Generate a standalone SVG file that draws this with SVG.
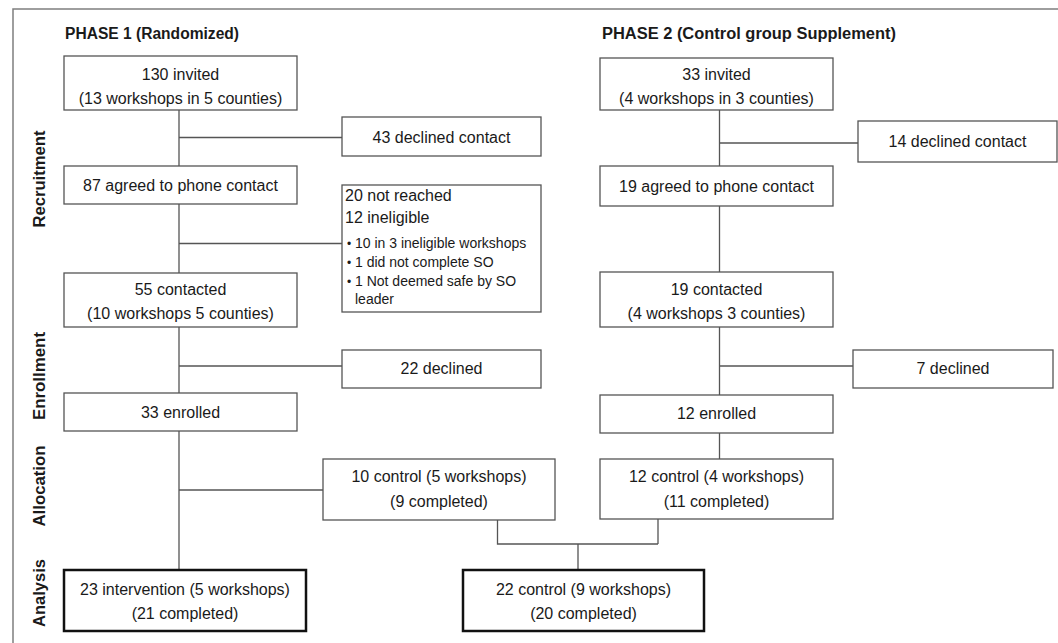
<svg xmlns="http://www.w3.org/2000/svg" width="1058" height="643" viewBox="0 0 1058 643">
<defs>
<style>
.bx{fill:#fff;stroke:#555;stroke-width:1.3}
.bxt{fill:#fff;stroke:#111;stroke-width:2.5}
.t{font-family:"Liberation Sans",Arial,sans-serif;font-size:16px;fill:#1a1a1a;text-anchor:middle}
.tl{font-family:"Liberation Sans",Arial,sans-serif;font-size:16px;fill:#1a1a1a}
.ts{font-family:"Liberation Sans",Arial,sans-serif;font-size:14px;fill:#1a1a1a}
.bu{font-family:"Liberation Sans",Arial,sans-serif;font-size:12px;fill:#1a1a1a}
.h{font-family:"Liberation Sans",Arial,sans-serif;font-size:16px;font-weight:bold;fill:#1a1a1a}
.lab{font-family:"Liberation Sans",Arial,sans-serif;font-size:16.5px;font-weight:bold;fill:#1a1a1a;text-anchor:middle}
.c{fill:none;stroke:#555;stroke-width:1.3}
</style>
</defs>
<rect width="1058" height="643" fill="#fff"/>
<path d="M13,643 V9 H1058" fill="none" stroke="#7f7f7f" stroke-width="1.5"/>
<g id="headers">
<text class="h" x="65" y="38.5" textLength="174" lengthAdjust="spacingAndGlyphs">PHASE 1 (Randomized)</text>
<text class="h" x="602" y="38.5" textLength="294" lengthAdjust="spacingAndGlyphs">PHASE 2 (Control group Supplement)</text>
</g>
<g id="stage-labels">
<text class="lab" transform="translate(45,179) rotate(-90)" textLength="97" lengthAdjust="spacingAndGlyphs">Recruitment</text>
<text class="lab" transform="translate(45,376) rotate(-90)" textLength="88" lengthAdjust="spacingAndGlyphs">Enrollment</text>
<text class="lab" transform="translate(45,486) rotate(-90)" textLength="81" lengthAdjust="spacingAndGlyphs">Allocation</text>
<text class="lab" transform="translate(45,593) rotate(-90)" textLength="68" lengthAdjust="spacingAndGlyphs">Analysis</text>
</g>
<g id="connectors">
<path class="c" d="M179,110 V166 M179,204 V273 M179,327 V393 M179,431 V570"/>
<path class="c" d="M179,137.5 H342 M179,243.5 H342 M179,366 H342 M179,490 H323"/>
<path class="c" d="M497.5,520 V544 H658 M658,519 V544 M578,544 V570"/>
<path class="c" d="M719.5,110 V166 M719.5,206 V272 M719.5,327 V395 M719.5,433 V459"/>
<path class="c" d="M719.5,143 H858 M719.5,366 H853"/>
</g>
<g id="n130">
<rect class="bx" x="64" y="56" width="233" height="54"/>
<text class="t" x="180.5" y="80">130 invited</text>
<text class="t" x="180.5" y="104">(13 workshops in 5 counties)</text>
</g>
<g id="n43">
<rect class="bx" x="342" y="117" width="199" height="39"/>
<text class="t" x="441.5" y="142.5">43 declined contact</text>
</g>
<g id="n87">
<rect class="bx" x="64" y="166" width="233" height="38"/>
<text class="t" x="180.5" y="191">87 agreed to phone contact</text>
</g>
<g id="n20">
<rect class="bx" x="342" y="185" width="199" height="127"/>
<text class="tl" x="345" y="201">20 not reached</text>
<text class="tl" x="345" y="223">12 ineligible</text>
<text class="bu" x="347" y="248">•</text>
<text class="ts" x="355" y="248">10 in 3 ineligible workshops</text>
<text class="bu" x="347" y="267">•</text>
<text class="ts" x="355" y="267">1 did not complete SO</text>
<text class="bu" x="347" y="286">•</text>
<text class="ts" x="355" y="286">1 Not deemed safe by SO</text>
<text class="ts" x="355" y="304">leader</text>
</g>
<g id="n55">
<rect class="bx" x="64" y="273" width="233" height="54"/>
<text class="t" x="180.5" y="295">55 contacted</text>
<text class="t" x="180.5" y="319">(10 workshops 5 counties)</text>
</g>
<g id="n22d">
<rect class="bx" x="342" y="350" width="199" height="38"/>
<text class="t" x="441.5" y="374">22 declined</text>
</g>
<g id="n33e">
<rect class="bx" x="64" y="393" width="233" height="38"/>
<text class="t" x="180.5" y="418">33 enrolled</text>
</g>
<g id="n10c">
<rect class="bx" x="323" y="459" width="232" height="61"/>
<text class="t" x="439" y="482">10 control (5 workshops)</text>
<text class="t" x="439" y="507">(9 completed)</text>
</g>
<g id="n23">
<rect class="bxt" x="64" y="570" width="242" height="61"/>
<text class="t" x="185" y="595">23 intervention (5 workshops)</text>
<text class="t" x="185" y="619">(21 completed)</text>
</g>
<g id="n33">
<rect class="bx" x="600" y="58" width="233" height="52"/>
<text class="t" x="716.5" y="80">33 invited</text>
<text class="t" x="716.5" y="104">(4 workshops in 3 counties)</text>
</g>
<g id="n14">
<rect class="bx" x="858" y="121" width="199" height="41"/>
<text class="t" x="957.5" y="147">14 declined contact</text>
</g>
<g id="n19a">
<rect class="bx" x="600" y="166" width="233" height="40"/>
<text class="t" x="716.5" y="191.5">19 agreed to phone contact</text>
</g>
<g id="n19c">
<rect class="bx" x="600" y="272" width="233" height="55"/>
<text class="t" x="716.5" y="294.5">19 contacted</text>
<text class="t" x="716.5" y="319">(4 workshops 3 counties)</text>
</g>
<g id="n7">
<rect class="bx" x="853" y="350" width="200" height="38"/>
<text class="t" x="953" y="374">7 declined</text>
</g>
<g id="n12e">
<rect class="bx" x="600" y="395" width="233" height="38"/>
<text class="t" x="716.5" y="418.5">12 enrolled</text>
</g>
<g id="n12c">
<rect class="bx" x="600" y="459" width="233" height="60"/>
<text class="t" x="716.5" y="482">12 control (4 workshops)</text>
<text class="t" x="716.5" y="507">(11 completed)</text>
</g>
<g id="n22c">
<rect class="bxt" x="463" y="570" width="241" height="61"/>
<text class="t" x="583.5" y="595">22 control (9 workshops)</text>
<text class="t" x="583.5" y="619">(20 completed)</text>
</g>
</svg>
